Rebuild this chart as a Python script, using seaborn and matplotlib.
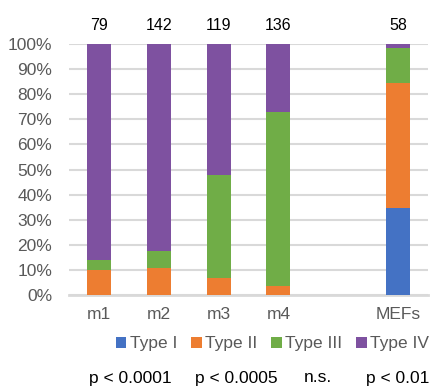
import numpy as np
import pandas as pd
import matplotlib
matplotlib.use("Agg")
import matplotlib.pyplot as plt
import seaborn as sns
from matplotlib.patches import Patch

# data (% of cells per type)
groups = ['m1', 'm2', 'm3', 'm4', ' ', 'MEFs']
counts = ['79', '142', '119', '136', '', '58']
type_names = ['Type I', 'Type II', 'Type III', 'Type IV']
type_i = [0.0, 0.0, 0.0, 0.0, 0.0, 34.5]
type_ii = [10.1, 10.6, 6.7, 3.7, 0.0, 50.0]
type_iii = [3.8, 7.0, 41.2, 69.1, 0.0, 13.8]
type_iv = [86.1, 82.4, 52.1, 27.2, 0.0, 1.7]
pvals = ['p < 0.0001', 'p < 0.0005', 'n.s.', 'p < 0.01']

colors = ['#4472C4', '#ED7D31', '#70AD47', '#7E51A0']

sns.set_style('white')
plt.rcParams['font.family'] = ['Liberation Sans', 'DejaVu Sans']

df = pd.DataFrame({'group': groups, 'Type I': type_i, 'Type II': type_ii,
                   'Type III': type_iii, 'Type IV': type_iv})
cum = df[type_names].cumsum(axis=1)
cum['group'] = df['group']

fig = plt.figure(figsize=(4.36, 3.87), dpi=100)
ax = fig.add_axes([0.158, 0.238, 0.824, 0.648])

# draw cumulative bars top layer first so lower layers sit on top
for name, col in reversed(list(zip(type_names, colors))):
    sns.barplot(data=cum, x='group', y=name, order=groups, color=col,
                width=0.4, linewidth=0, saturation=1, ax=ax, zorder=3)

ax.set_ylim(0, 100)
ax.set_xlim(-0.5, 5.5)
ax.set_yticks(np.arange(0, 101, 10))
ax.set_yticklabels([f'{v}%' for v in range(0, 101, 10)])
ax.yaxis.grid(True, color='#D9D9D9', linewidth=1.5, zorder=0)
ax.set_axisbelow(True)
ax.set_xlabel('')
ax.set_ylabel('')
ax.tick_params(axis='both', length=0, labelsize=12.5, colors='#595959')
ax.tick_params(axis='y', pad=12)
ax.tick_params(axis='x', pad=9)
for s in ['left', 'right', 'top']:
    ax.spines[s].set_visible(False)
ax.spines['bottom'].set_color('#D9D9D9')
ax.spines['bottom'].set_linewidth(2)

for i, c in enumerate(counts):
    ax.text(i, 107.5, c, ha='center', va='center', fontsize=11.5, color='black', clip_on=False)

handles = [Patch(facecolor=c, edgecolor='none') for c in colors]
fig.legend(handles, type_names, loc='center', bbox_to_anchor=(0.625, 0.112), ncol=4,
           frameon=False, fontsize=12.5, handlelength=0.6, handleheight=0.6,
           handletextpad=0.2, columnspacing=0.8, labelcolor='#595959')

for xp, t in zip([130, 236, 318, 398], pvals):
    fig.text(xp / 436, 1 - 378 / 387, t, ha='center', va='center', fontsize=12.5, color='black')

fig.savefig('out.png', dpi=100)
